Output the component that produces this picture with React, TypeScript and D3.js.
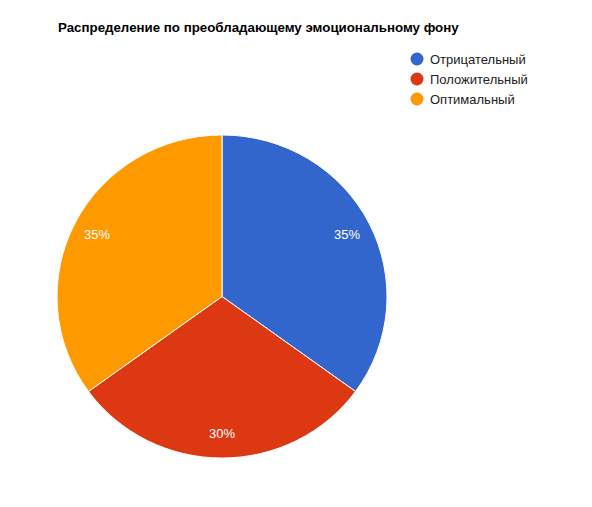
import React from "react";
import * as d3 from "d3";

const categories = ["Отрицательный", "Положительный", "Оптимальный"];
const values = [35, 30, 35];
const colors = ["#3366cc", "#dc3912", "#ff9900"];
const title = "Распределение по преобладающему эмоциональному фону";

const W = 592;
const H = 507;

export default function App() {
  const cx = 222;
  const cy = 296.5;
  const R = 165;
  const sy = 0.979;
  const pie = d3.pie<number>().sort(null).value((d) => d)(values);
  const arc = d3.arc<d3.PieArcDatum<number>>().innerRadius(0).outerRadius(R);
  const labelArc = d3.arc<d3.PieArcDatum<number>>().innerRadius(R * 0.85).outerRadius(R * 0.85);
  const total = d3.sum(values);
  const legendY = d3.scalePoint<string>().domain(categories).range([59, 99]);

  return (
    <svg
      width={W}
      height={H}
      style={{ position: "absolute", left: 0, top: 0, display: "block", background: "#fff" }}
      fontFamily="Arial, 'Liberation Sans', sans-serif"
    >
      <text x={58} y={32} fontSize={13.3} fontWeight="bold" fill="#000">
        {title}
      </text>
      <g transform={`translate(${cx},${cy})`}>
        <g transform={`scale(1,${sy})`}>
          {pie.map((p, i) => (
            <path key={i} d={arc(p) || ""} fill={colors[i]} stroke="#fff" strokeWidth={1} />
          ))}
        </g>
        {pie.map((p, i) => {
          const [x, y] = labelArc.centroid(p);
          return (
            <text
              key={"l" + i}
              x={x}
              y={y * sy}
              dy="0.35em"
              textAnchor="middle"
              fontSize={13}
              fill="#fff"
            >
              {Math.round((p.value / total) * 100) + "%"}
            </text>
          );
        })}
      </g>
      {categories.map((c, i) => (
        <g key={c} transform={`translate(0,${legendY(c)})`}>
          <circle cx={417} cy={0} r={6.5} fill={colors[i]} />
          <text x={430} y={0} dy="0.35em" fontSize={13} fill="#222">
            {c}
          </text>
        </g>
      ))}
    </svg>
  );
}
